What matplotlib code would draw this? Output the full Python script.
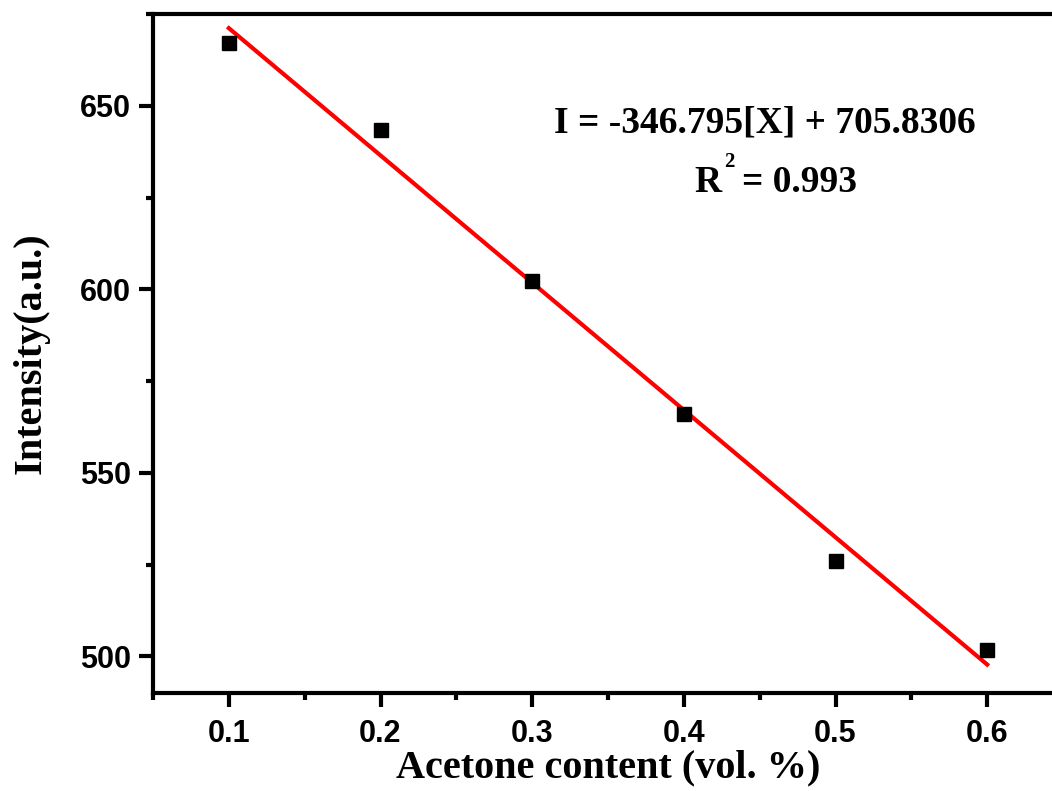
import numpy as np
import matplotlib
matplotlib.use('Agg')
import matplotlib.pyplot as plt
from matplotlib import font_manager as fm
from matplotlib.ticker import MultipleLocator

# acetone content (vol. %) and measured intensity
acetone = [0.1, 0.2, 0.3, 0.4, 0.5, 0.6]
intensity = [667.2, 643.4, 602.2, 566.1, 526.0, 501.6]

# linear fit reported on the figure
slope = -346.795
intercept = 705.8306
r2 = 0.993


def bold_font(family, size):
    # pick the regular-width bold face (avoid the Narrow variant)
    for f in fm.fontManager.ttflist:
        if f.name == family and f.weight in (700, 'bold') and f.style == 'normal' \
                and 'Narrow' not in f.fname:
            return fm.FontProperties(fname=f.fname, size=size)
    return fm.FontProperties(family=family, weight='bold', size=size)


tick_font = bold_font('Liberation Sans', 22)
label_font = bold_font('Liberation Serif', 29)
eq_font = bold_font('Liberation Serif', 27)
sup_font = bold_font('Liberation Serif', 15)

fig = plt.figure(figsize=(10.52, 7.91), dpi=100)
# axes runs a bit past the right edge like the original crop
ax = fig.add_axes([153 / 1052, 1 - 693 / 791, (1063 - 153) / 1052, (693 - 14) / 791])

ax.plot(acetone, intensity, 's', color='black', ms=9.5, zorder=3)
fit_x = np.array([acetone[0], acetone[-1]])
ax.plot(fit_x, slope * fit_x + intercept, color='#ff0000', lw=3, zorder=2)

ax.set_xlim(0.05, 0.65)
ax.set_ylim(490, 675)
ax.xaxis.set_major_locator(MultipleLocator(0.1))
ax.xaxis.set_minor_locator(MultipleLocator(0.05))
ax.yaxis.set_major_locator(MultipleLocator(50))
ax.yaxis.set_minor_locator(MultipleLocator(25))

for s in ax.spines.values():
    s.set_linewidth(3)
ax.tick_params(which='major', direction='out', length=10, width=3)
ax.tick_params(which='minor', direction='out', length=5, width=3)
ax.tick_params(top=False, right=False, which='both')
for lab in ax.get_xticklabels() + ax.get_yticklabels():
    lab.set_fontproperties(tick_font)
ax.tick_params(axis='x', pad=9)
ax.tick_params(axis='y', pad=6)

ax.set_xlabel('Acetone content (vol. %)', fontproperties=label_font, labelpad=0)
ax.set_ylabel('Intensity(a.u.)', fontproperties=label_font, labelpad=22)

# fit equation, R^2 built from three pieces so the superscript sits right
ax.text(0.6725, 0.8262, 'I = -346.795[X] + 705.8306', transform=ax.transAxes,
        ha='center', va='baseline', fontproperties=eq_font)
ax.text(0.6245, 0.7378, 'R', transform=ax.transAxes,
        ha='right', va='baseline', fontproperties=eq_font)
ax.text(0.6275, 0.7747, '2', transform=ax.transAxes,
        ha='left', va='baseline', fontproperties=sup_font)
ax.text(0.6470, 0.7378, '= %.3f' % r2, transform=ax.transAxes,
        ha='left', va='baseline', fontproperties=eq_font)

fig.savefig('out.png', dpi=100)
